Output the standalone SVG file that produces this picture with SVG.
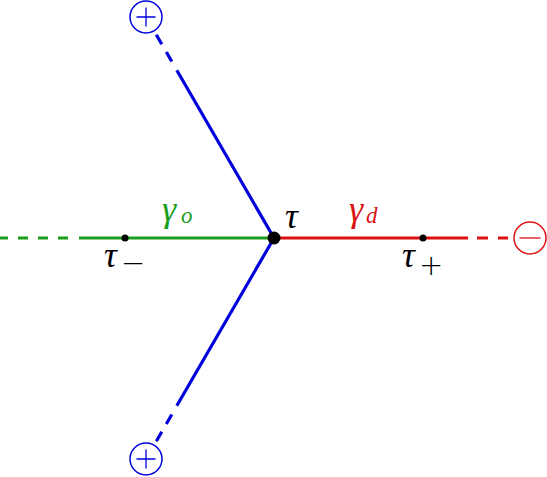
<svg xmlns="http://www.w3.org/2000/svg" width="547" height="477" viewBox="0 0 547 477">
<style>
.ln{stroke-width:3.2;fill:none;stroke-linecap:butt}
.b{stroke:#0000dd}.g{stroke:#1a9e1a}.r{stroke:#dd1111}
.d{stroke-dasharray:10 10}
.circ{fill:#fff;stroke-width:1.5}
.sign{stroke-width:1.3;fill:none}
.m{font-family:"Liberation Serif","DejaVu Serif",serif;font-style:italic;font-size:36px}
.s{font-family:"Liberation Serif","DejaVu Serif",serif;font-style:italic;font-size:23px}
.op{font-family:"DejaVu Sans",sans-serif;font-size:29px;font-weight:300}
</style>
<rect width="547" height="477" fill="#fff"/>
<g id="connectors">
<line class="ln g" x1="274" y1="238" x2="79" y2="238"/>
<line class="ln g d" x1="68" y1="238" x2="0" y2="238"/>
<line class="ln r" x1="274" y1="238" x2="468" y2="238"/>
<line class="ln r" x1="477" y1="238" x2="508" y2="238" style="stroke-dasharray:11 10"/>
<line class="ln b" x1="274" y1="238" x2="176.8" y2="70.2"/>
<line class="ln b" x1="171.8" y1="61.5" x2="156.3" y2="34.7" style="stroke-dasharray:11 9"/>
<line class="ln b" x1="274" y1="238" x2="176.8" y2="405.8"/>
<line class="ln b" x1="171.8" y1="414.5" x2="156.3" y2="441.3" style="stroke-dasharray:11 9"/>
</g>
<g id="plus-top">
<circle class="circ" cx="146" cy="17" r="16" stroke="#0000dd"/>
<path class="sign" stroke="#0000dd" d="M136.5 17H155.5M146 7.5V26.5"/>
</g>
<g id="plus-bottom">
<circle class="circ" cx="146" cy="459" r="16" stroke="#0000dd"/>
<path class="sign" stroke="#0000dd" d="M136.5 459H155.5M146 449.5V468.5"/>
</g>
<g id="minus-right">
<circle class="circ" cx="530" cy="238" r="16" stroke="#dd1111"/>
<path class="sign" stroke="#dd1111" d="M519.5 238H540.5"/>
</g>
<g id="tau">
<circle cx="274" cy="238" r="6.5" fill="#000"/>
<text class="m" x="285" y="228" fill="#000">τ</text>
</g>
<g id="tau-minus">
<circle cx="125" cy="238" r="3.5" fill="#000"/>
<text class="m" x="104" y="267" fill="#000">τ</text>
<text class="op" x="121" y="273" fill="#000">−</text>
</g>
<g id="tau-plus">
<circle cx="423" cy="238" r="3.5" fill="#000"/>
<text class="m" x="402" y="267" fill="#000">τ</text>
<text class="op" x="419" y="275" fill="#000">+</text>
</g>
<g id="gamma-o">
<text class="m" x="162" y="221" fill="#1a9e1a">γ</text>
<text class="s" x="181" y="223" fill="#1a9e1a">o</text>
</g>
<g id="gamma-d">
<text class="m" x="349" y="221" fill="#dd1111">γ</text>
<text class="s" x="366" y="223" fill="#dd1111">d</text>
</g>
</svg>
